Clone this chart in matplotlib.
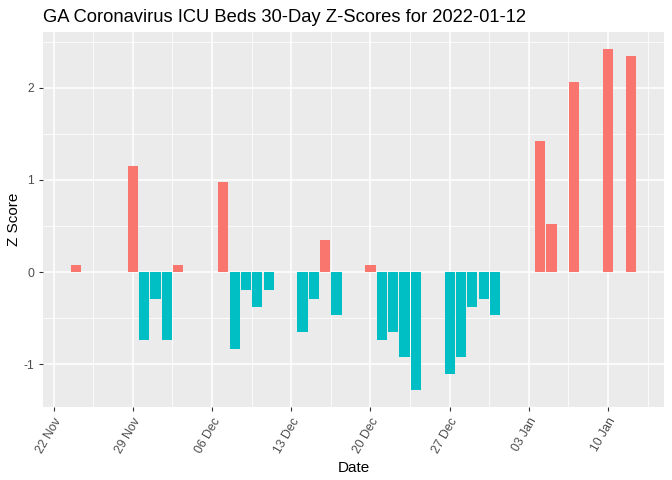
import numpy as np
import pandas as pd
import matplotlib
matplotlib.use("Agg")
import matplotlib.pyplot as plt
import matplotlib.dates as mdates

plt.rcParams['font.family'] = ['Liberation Sans', 'DejaVu Sans']
plt.rcParams['axes.unicode_minus'] = False

dates = ["2021-11-24", "2021-11-29", "2021-11-30", "2021-12-01", "2021-12-02",
         "2021-12-03", "2021-12-07", "2021-12-08", "2021-12-09", "2021-12-10",
         "2021-12-11", "2021-12-14", "2021-12-15", "2021-12-16", "2021-12-17",
         "2021-12-20", "2021-12-21", "2021-12-22", "2021-12-23", "2021-12-24",
         "2021-12-27", "2021-12-28", "2021-12-29", "2021-12-30", "2021-12-31",
         "2022-01-04", "2022-01-05", "2022-01-07", "2022-01-10", "2022-01-12"]
z_scores = [0.08, 1.15, -0.74, -0.29, -0.74,
            0.08, 0.98, -0.84, -0.20, -0.38,
            -0.20, -0.65, -0.29, 0.35, -0.47,
            0.08, -0.74, -0.65, -0.92, -1.28,
            -1.11, -0.92, -0.38, -0.29, -0.47,
            1.42, 0.52, 2.06, 2.42, 2.34]
tick_dates = ["2021-11-22", "2021-11-29", "2021-12-06", "2021-12-13",
              "2021-12-20", "2021-12-27", "2022-01-03", "2022-01-10"]

x = mdates.date2num(pd.to_datetime(dates))
z = np.array(z_scores)
colors = np.where(z > 0, "#F8766D", "#00BFC4")

fig = plt.figure(figsize=(6.72, 4.8), dpi=100)
ax = fig.add_axes([43 / 672, 1 - 407 / 480, 621 / 672, 375 / 480])
ax.set_facecolor("#EBEBEB")

ax.bar(x, z, width=0.9, color=colors, zorder=3)

ticks = mdates.date2num(pd.to_datetime(tick_dates))
ax.set_xticks(ticks)
ax.set_xticklabels(pd.to_datetime(tick_dates).strftime("%d %b"), rotation=60,
                   ha="right", rotation_mode="anchor")
minor_x = np.concatenate([ticks - 3.5, [ticks[-1] + 3.5]])
ax.set_xticks(minor_x, minor=True)

ax.set_yticks([-1, 0, 1, 2])
ax.set_yticks([-1.5, -0.5, 0.5, 1.5, 2.5], minor=True)

xlo, xhi = x.min() - 0.45, x.max() + 0.45
pad = (xhi - xlo) * 0.05
ax.set_xlim(xlo - pad, xhi + pad)
ylo, yhi = min(z.min(), 0), z.max()
pad = (yhi - ylo) * 0.05
ax.set_ylim(ylo - pad, yhi + pad)

ax.grid(which="major", color="white", linewidth=1.1, zorder=0)
ax.grid(which="minor", color="white", linewidth=0.55, zorder=0)
ax.set_axisbelow(True)
for s in ax.spines.values():
    s.set_visible(False)
ax.tick_params(which="major", length=3, color="#333333", labelcolor="#4D4D4D",
               labelsize=8.8)
ax.tick_params(which="minor", length=0)

ax.set_xlabel("Date", fontsize=11, labelpad=4)
ax.set_ylabel("Z Score", fontsize=11)
ax.yaxis.set_label_coords(-0.036, 0.5)
fig.text(43 / 672, 1 - 18 / 480, "GA Coronavirus ICU Beds 30-Day Z-Scores for 2022-01-12",
         fontsize=13.2, va="center", ha="left")

fig.savefig("out.png", dpi=100)
